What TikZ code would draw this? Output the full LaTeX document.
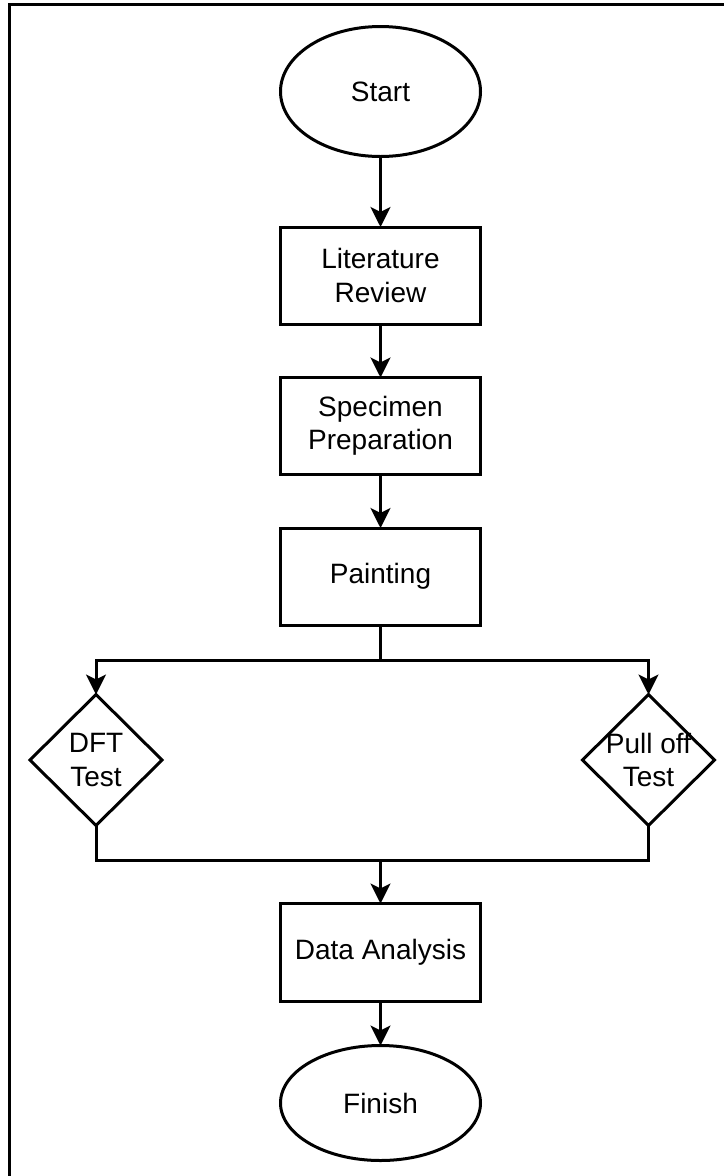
\documentclass[tikz,border=0pt]{standalone}
\usepackage{fontspec}
\setmainfont{Liberation Sans}
\usetikzlibrary{shapes.geometric,arrows.meta}
\tikzset{
  base/.style={draw=black, line width=3bp, fill=white, inner sep=0pt, outer sep=0pt,
    align=center, text=black, font=\fontsize{28bp}{33.5bp}\selectfont},
  terminal/.style={base, ellipse, minimum width=200bp},
  stepbox/.style={base, rectangle, minimum width=200bp, minimum height=97bp},
  decision/.style={base, diamond, minimum width=132bp, minimum height=131bp},
  lbl/.style={inner sep=0pt, align=center, text=black, font=\fontsize{28bp}{33.5bp}\selectfont},
  conn/.style={draw=black, line width=3bp},
  arr/.style={conn, -{Stealth[length=20bp, width=20bp, inset=5bp]}},
}
\begin{document}
\begin{tikzpicture}[x=1bp, y=-1bp]
\useasboundingbox (0,0) rectangle (724,1176);
% frame (top and left edges only)
\draw[line width=3bp] (9.5,1180) -- (9.5,4.7) -- (730,4.7);

\node[terminal, minimum height=130bp] (start) at (380.5,91.5) {Start};
\node[stepbox] (lit) at (380.5,275.5) {Literature\\Review};
\node[stepbox] (spec) at (380.5,426) {Specimen\\Preparation};
\node[stepbox] (paint) at (380.5,576.5) {Painting};
\node[decision] (dft) at (96,760) {};
\node[lbl] (dfttext) at (96,760) {DFT\\Test};
\node[decision] (pull) at (648.5,760) {};
\node[lbl] (pulltext) at (648.5,760) {Pull off\\Test};
\node[stepbox, minimum height=98bp] (data) at (380.5,952.5) {Data Analysis};
\node[terminal, minimum height=115bp] (finish) at (380.5,1103) {Finish};

\coordinate (split) at (380.5,660);
\coordinate (merge) at (380.5,860);

\draw[arr] (start) -- (lit);
\draw[arr] (lit) -- (spec);
\draw[arr] (spec) -- (paint);
\draw[conn] (paint.south) -- (split);
\draw[arr] (split) -| (dft.north);
\draw[arr] (split) -| (pull.north);
\draw[conn] (dft.south) |- (merge);
\draw[conn] (pull.south) |- (merge);
\draw[arr] (merge) -- (data);
\draw[arr] (data) -- (finish);
\end{tikzpicture}
\end{document}
